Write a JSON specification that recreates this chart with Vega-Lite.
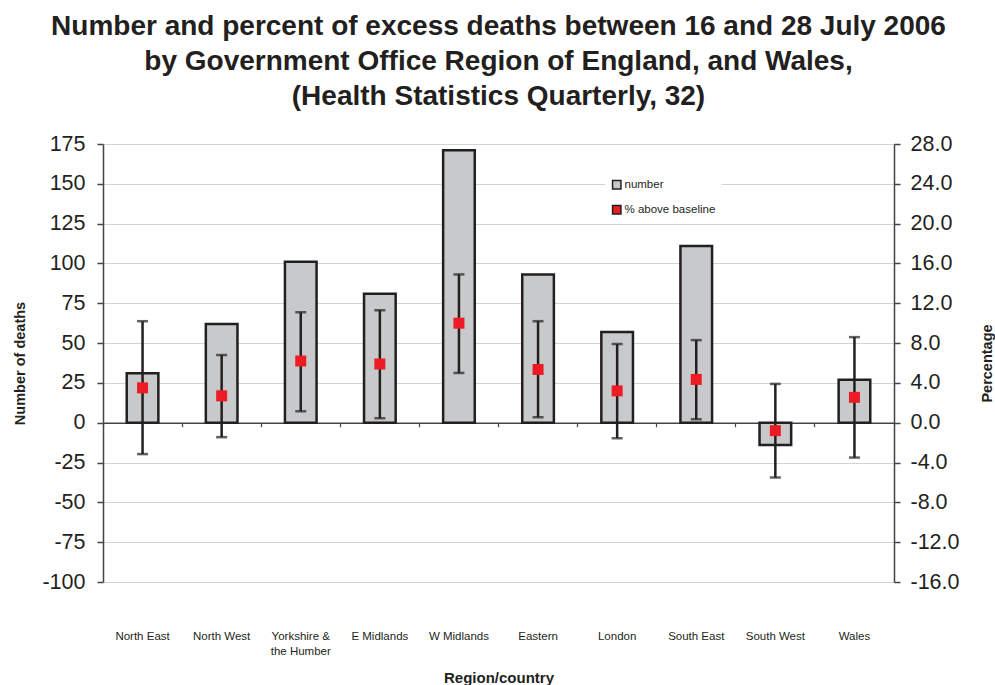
{
  "$schema": "https://vega.github.io/schema/vega-lite/v6.json",
  "width": 791,
  "height": 438,
  "autosize": {"type": "none"},
  "padding": {"left": 103, "top": 144, "right": 101, "bottom": 103},
  "background": "white",
  "config": {
    "view": {"stroke": null},
    "font": "Liberation Sans",
    "axis": {"labelOverlap": false}
  },
  "title": {
    "text": ["Number and percent of excess deaths between 16 and 28 July 2006", "by Government Office Region of England, and Wales,", "(Health Statistics Quarterly, 32)"],
    "fontSize": 28,
    "font": "Liberation Sans",
    "fontWeight": "bold",
    "color": "#231f20",
    "lineHeight": 35,
    "offset": 22,
    "anchor": "middle"
  },
  "data": {
    "values": [
      {"region": "North East", "number": 31, "pct": 3.5, "lo": -3.15, "hi": 10.2},
      {"region": "North West", "number": 62, "pct": 2.7, "lo": -1.45, "hi": 6.8},
      {"region": "Yorkshire & the Humber", "number": 101, "pct": 6.2, "lo": 1.15, "hi": 11.1},
      {"region": "E Midlands", "number": 81, "pct": 5.9, "lo": 0.45, "hi": 11.3},
      {"region": "W Midlands", "number": 171, "pct": 10.0, "lo": 5.0, "hi": 14.9},
      {"region": "Eastern", "number": 93, "pct": 5.35, "lo": 0.55, "hi": 10.2},
      {"region": "London", "number": 57, "pct": 3.2, "lo": -1.55, "hi": 7.9},
      {"region": "South East", "number": 111, "pct": 4.35, "lo": 0.35, "hi": 8.3},
      {"region": "South West", "number": -14, "pct": -0.8, "lo": -5.5, "hi": 3.9},
      {"region": "Wales", "number": 27, "pct": 2.55, "lo": -3.5, "hi": 8.6}
    ]
  },
  "layer": [
    {
      "mark": {"type": "bar", "width": {"band": 0.4}, "stroke": "#231f20", "strokeWidth": 2.5},
      "encoding": {
        "x": {
          "field": "region", "type": "nominal", "sort": null,
          "scale": {"paddingInner": 0, "paddingOuter": 0},
          "axis": {
            "orient": "bottom", "domain": false, "ticks": false, "grid": false,
            "labelAngle": 0, "labelFont": "Liberation Sans", "labelFontSize": 11.5,
            "labelColor": "#231f20", "labelPadding": 48, "labelBaseline": "top",
            "labelExpr": "datum.value == 'Yorkshire & the Humber' ? ['Yorkshire &', 'the Humber'] : datum.value",
            "labelLineHeight": 15, "labelOverlap": false,
            "title": "Region/country", "titleFont": "Liberation Sans", "titleFontSize": 15,
            "titleFontWeight": "bold", "titleColor": "#231f20", "titleY": 95, "titleBaseline": "middle"
          }
        },
        "y": {
          "field": "number", "type": "quantitative",
          "scale": {"domain": [-100, 175], "nice": false, "zero": false},
          "axis": {
            "orient": "left", "values": [-100, -75, -50, -25, 0, 25, 50, 75, 100, 125, 150, 175],
            "labelExpr": "replace(datum.label, '−', '-')", "labelOverlap": false,
            "grid": true, "gridColor": "#d3d3d3", "gridWidth": 1,
            "domainColor": "#444", "domainWidth": 1.5, "tickColor": "#444", "tickWidth": 1.5, "tickSize": 6,
            "labelFontSize": 21.5, "labelColor": "#231f20", "labelPadding": 12,
            "title": "Number of deaths", "titleFontSize": 14.5, "titleFontWeight": "bold", "titleColor": "#231f20",
            "titleX": -83, "titleY": 219, "titleBaseline": "middle", "titleAngle": 270
          }
        },
        "color": {
          "datum": "number",
          "scale": {"domain": ["number", "% above baseline"], "range": ["#c8c9cb", "#ed1c24"]},
          "legend": {
            "title": null, "orient": "none", "legendX": 502, "legendY": 29,
            "symbolType": "square", "symbolSize": 70, "labelFontSize": 11.5, "labelColor": "#231f20",
            "fillColor": "white", "padding": 6, "rowPadding": 10, "labelOffset": 2,
            "encode": {
              "symbols": {
                "update": {
                  "stroke": {"signal": "datum.value == 'number' ? '#231f20' : '#ed1c24'"},
                  "strokeOpacity": {"signal": "datum.value == 'number' ? 1 : 0"},
                  "strokeWidth": {"signal": "datum.value == 'number' ? 2.2 : 0"},
                  "size": {"signal": "datum.value == 'number' ? 50 : 90"}
                }
              }
            }
          }
        }
      }
    },
    {
      "layer": [
        {
          "mark": {"type": "rule", "color": "#231f20", "strokeWidth": 2.5},
          "encoding": {
            "x": {
              "field": "region", "type": "nominal", "sort": null,
              "axis": {
                "orient": "bottom", "offset": -159.27, "labels": false, "title": null, "grid": false,
                "domain": true, "domainColor": "#444", "domainWidth": 1.5,
                "ticks": true, "tickColor": "#444", "tickWidth": 1.2, "tickSize": 4, "bandPosition": 0
              }
            },
            "y": {
              "field": "lo", "type": "quantitative",
              "scale": {"domain": [-16, 28], "nice": false, "zero": false},
              "axis": {
                "orient": "right", "values": [-16, -12, -8, -4, 0, 4, 8, 12, 16, 20, 24, 28],
                "format": ".1f", "labelExpr": "replace(datum.label, '−', '-')", "labelOverlap": false, "grid": false,
                "domainColor": "#444", "domainWidth": 1.5, "tickColor": "#444", "tickWidth": 1.5, "tickSize": 6,
                "labelFontSize": 21.5, "labelColor": "#231f20", "labelPadding": 10,
                "title": "Percentage", "titleFontSize": 14.5, "titleFontWeight": "bold", "titleColor": "#231f20",
                "titleX": 93, "titleY": 219, "titleBaseline": "middle", "titleAngle": 270
              }
            },
            "y2": {"field": "hi"}
          }
        },
        {
          "mark": {"type": "tick", "color": "#231f20", "thickness": 2.5, "size": 11},
          "encoding": {
            "x": {"field": "region", "type": "nominal", "sort": null},
            "y": {"field": "lo", "type": "quantitative", "axis": {"orient": "right", "values": [-16, -12, -8, -4, 0, 4, 8, 12, 16, 20, 24, 28], "labelOverlap": false}}
          }
        },
        {
          "mark": {"type": "tick", "color": "#231f20", "thickness": 2.5, "size": 11},
          "encoding": {
            "x": {"field": "region", "type": "nominal", "sort": null},
            "y": {"field": "hi", "type": "quantitative", "axis": {"orient": "right", "values": [-16, -12, -8, -4, 0, 4, 8, 12, 16, 20, 24, 28], "labelOverlap": false}}
          }
        },
        {
          "mark": {"type": "point", "shape": "square", "filled": true, "size": 121, "opacity": 1},
          "encoding": {
            "x": {"field": "region", "type": "nominal", "sort": null},
            "y": {"field": "pct", "type": "quantitative", "axis": {"orient": "right", "values": [-16, -12, -8, -4, 0, 4, 8, 12, 16, 20, 24, 28], "labelOverlap": false}},
            "color": {"datum": "% above baseline"}
          }
        }
      ]
    }
  ],
  "resolve": {"scale": {"y": "independent"}, "axis": {"x": "independent"}}
}
